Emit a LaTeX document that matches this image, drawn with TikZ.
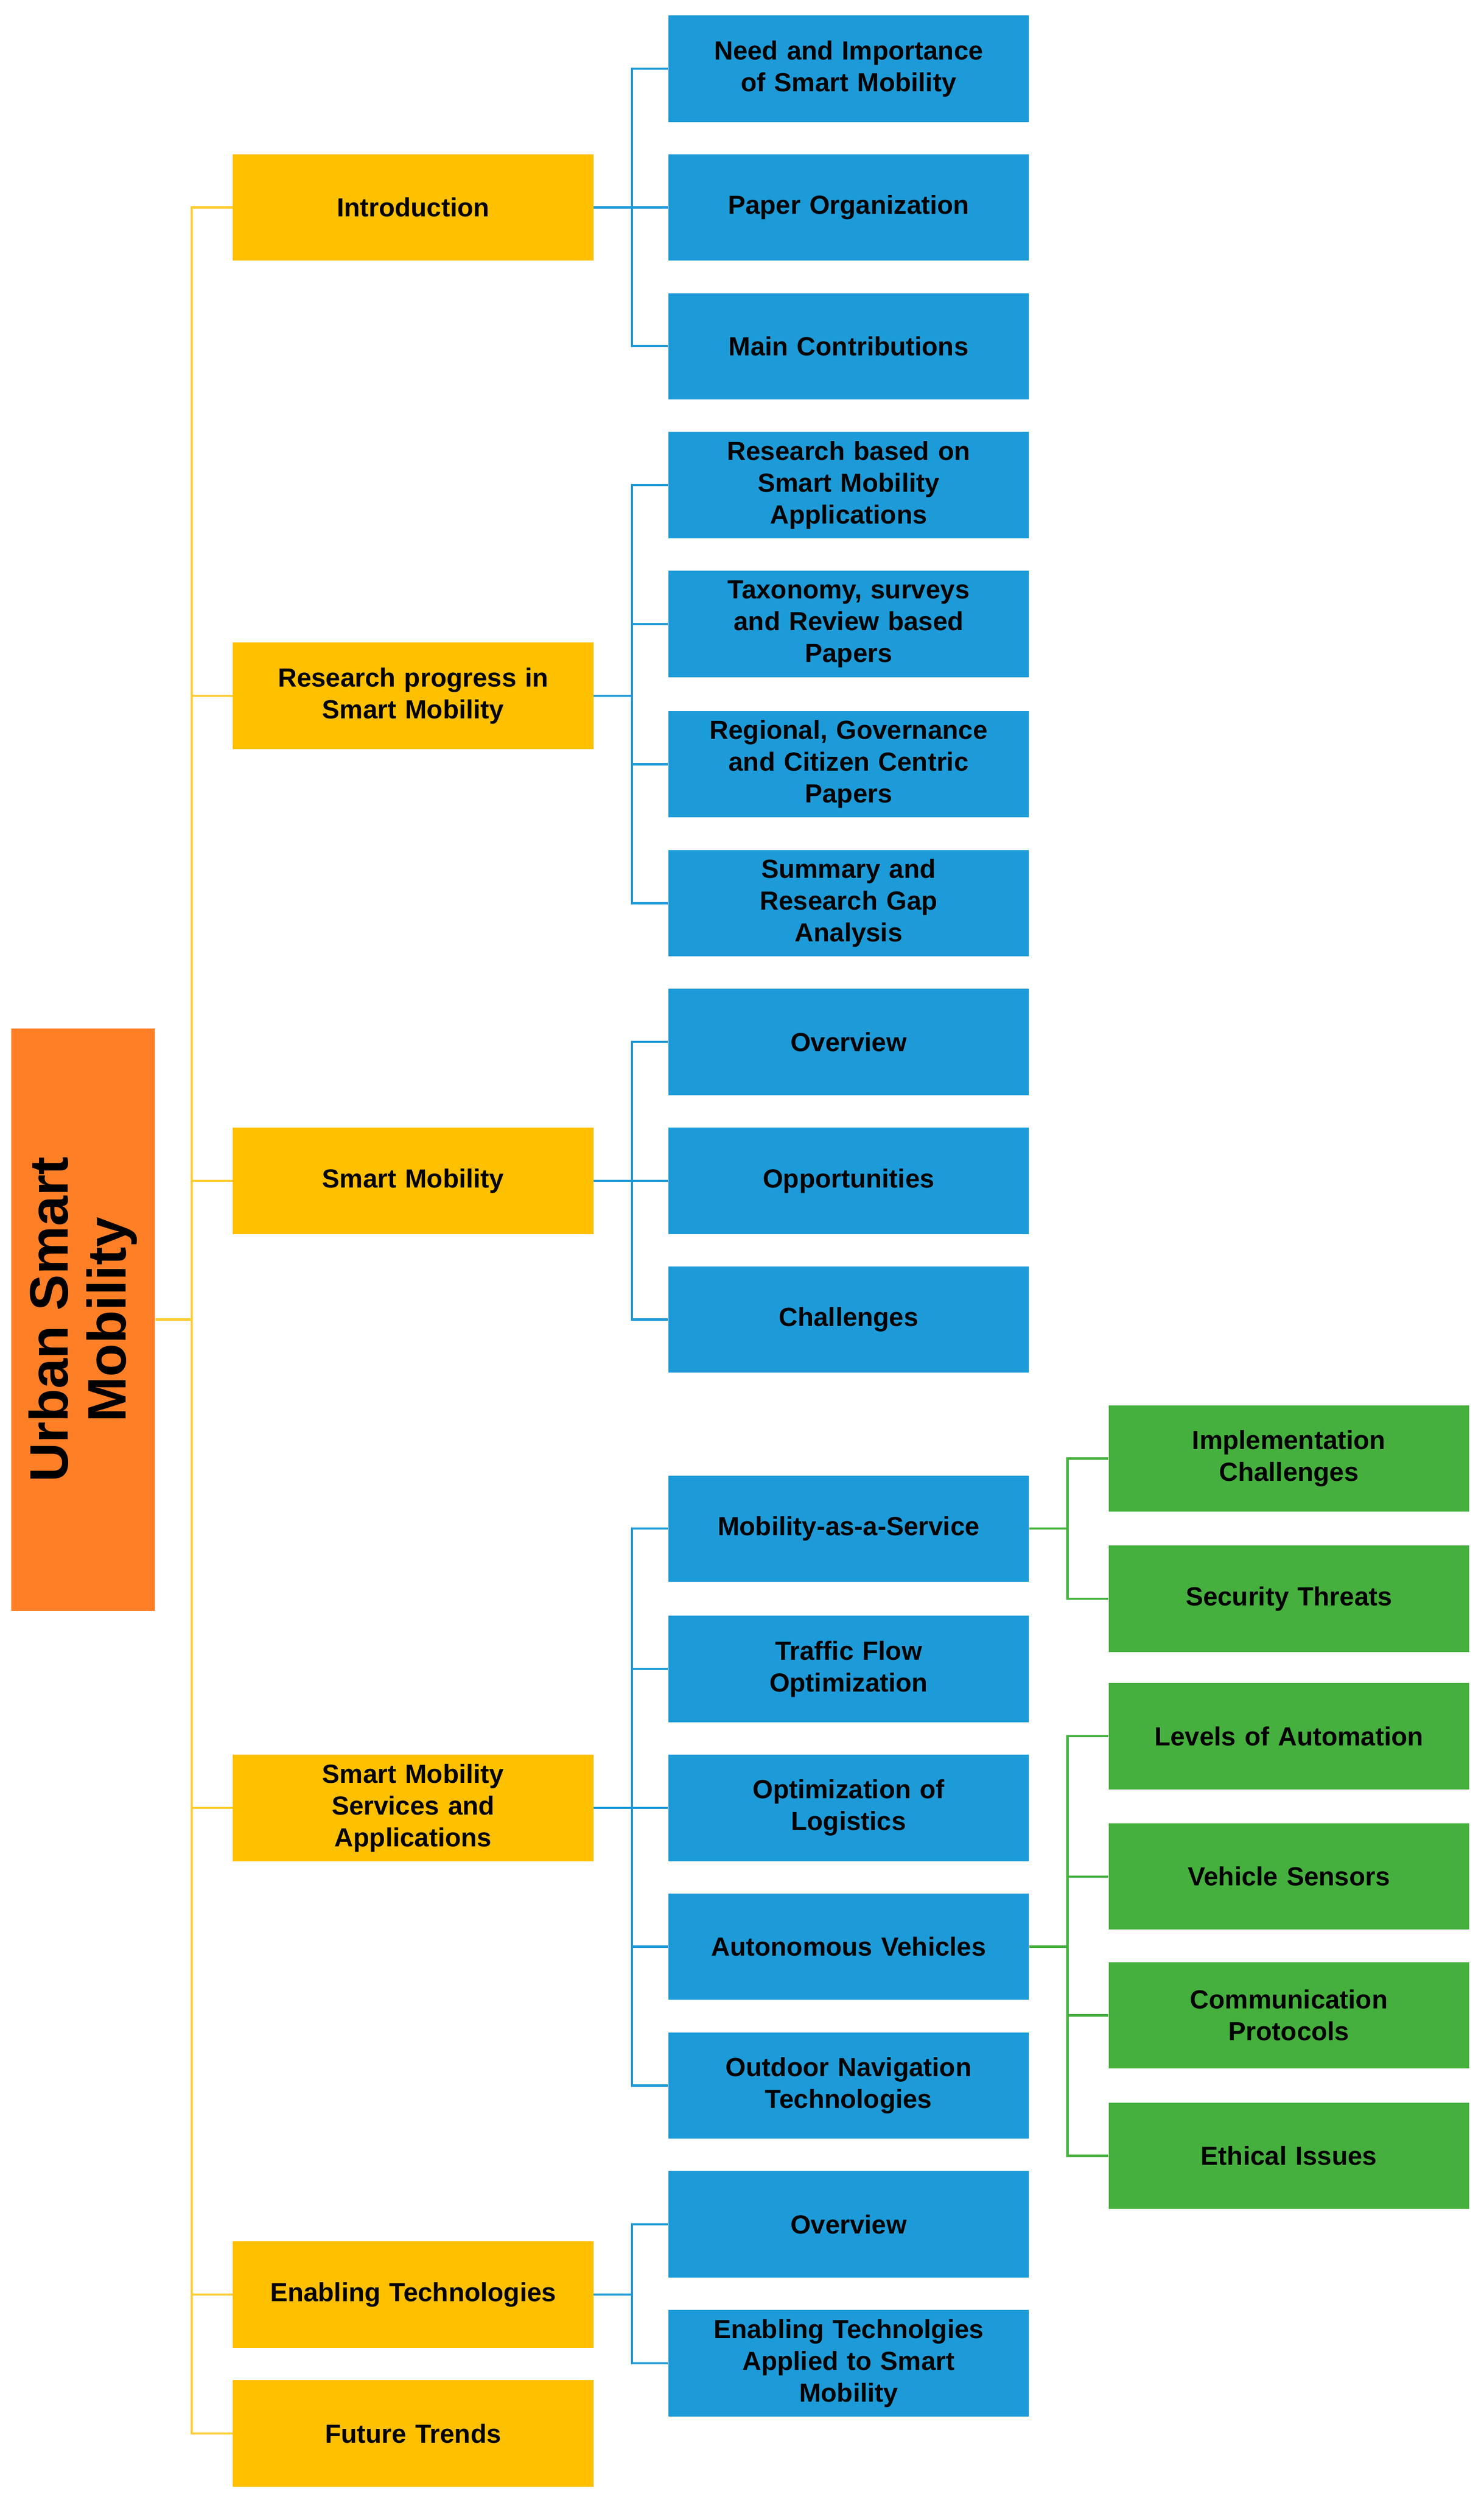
\documentclass[tikz,border=0pt]{standalone}
\usepackage{fontspec}
\setmainfont{Liberation Sans}
\begin{document}
\begin{tikzpicture}[x=0.03cm,y=-0.03cm,
 box/.style={minimum width=6.78cm,minimum height=2.0cm,inner sep=1pt,align=center,font=\fontsize{14}{17}\selectfont\bfseries,text width=6.7cm},
 yb/.style={box,fill=yel},
 bb/.style={box,fill=blu},
 gb/.style={box,fill=grn},
 yl/.style={draw=yel!80,line width=1.2pt},
 bl/.style={draw=blu,line width=1.2pt},
 gl/.style={draw=grn,line width=1.2pt}]
\definecolor{org}{HTML}{FF7F27}
\definecolor{yel}{HTML}{FFC000}
\definecolor{blu}{HTML}{1D9BD8}
\definecolor{grn}{HTML}{45B03D}
\useasboundingbox (0,0) rectangle (930,1563);
\node[fill=org,minimum width=2.7cm,minimum height=10.95cm] (root) at (52,827) {};
\node[rotate=90,align=center,font=\fontsize{29}{31}\selectfont\bfseries] (rt) at (root.center) {Urban Smart\\Mobility};
% yellow
\node[yb] (y1) at (259,130) {Introduction};
\node[yb] (y2) at (259,436) {Research progress in\\Smart Mobility};
\node[yb] (y3) at (259,740) {Smart Mobility};
\node[yb] (y4) at (259,1133) {Smart Mobility\\Services and\\Applications};
\node[yb] (y5) at (259,1438) {Enabling Technologies};
\node[yb] (y6) at (259,1525) {Future Trends};
% blue
\node[bb] (b1) at (532,43) {Need and Importance\\of Smart Mobility};
\node[bb] (b2) at (532,130) {Paper Organization};
\node[bb] (b3) at (532,217) {Main Contributions};
\node[bb] (b4) at (532,304) {Research based on\\Smart Mobility\\Applications};
\node[bb] (b5) at (532,391) {Taxonomy, surveys\\and Review based\\Papers};
\node[bb] (b6) at (532,479) {Regional, Governance\\and Citizen Centric\\Papers};
\node[bb] (b7) at (532,566) {Summary and\\Research Gap\\Analysis};
\node[bb] (b8) at (532,653) {Overview};
\node[bb] (b9) at (532,740) {Opportunities};
\node[bb] (b10) at (532,827) {Challenges};
\node[bb] (b11) at (532,958) {Mobility-as-a-Service};
\node[bb] (b12) at (532,1046) {Traffic Flow\\Optimization};
\node[bb] (b13) at (532,1133) {Optimization of\\Logistics};
\node[bb] (b14) at (532,1220) {Autonomous Vehicles};
\node[bb] (b15) at (532,1307) {Outdoor Navigation\\Technologies};
\node[bb] (b16) at (532,1394) {Overview};
\node[bb] (b17) at (532,1481) {Enabling Technolgies\\Applied to Smart\\Mobility};
% green
\node[gb] (g1) at (808,914) {Implementation\\Challenges};
\node[gb] (g2) at (808,1002) {Security Threats};
\node[gb] (g3) at (808,1088) {Levels of Automation};
\node[gb] (g4) at (808,1176) {Vehicle Sensors};
\node[gb] (g5) at (808,1263) {Communication\\Protocols};
\node[gb] (g6) at (808,1351) {Ethical Issues};
% connectors
\foreach \y in {y1,y2,y3,y4,y5,y6} \draw[yl] (root.east) -- ++(23,0) |- (\y.west);
\foreach \b in {b1,b2,b3} \draw[bl] (y1.east) -- ++(24,0) |- (\b.west);
\foreach \b in {b4,b5,b6,b7} \draw[bl] (y2.east) -- ++(24,0) |- (\b.west);
\foreach \b in {b8,b9,b10} \draw[bl] (y3.east) -- ++(24,0) |- (\b.west);
\foreach \b in {b11,b12,b13,b14,b15} \draw[bl] (y4.east) -- ++(24,0) |- (\b.west);
\foreach \b in {b16,b17} \draw[bl] (y5.east) -- ++(24,0) |- (\b.west);
\foreach \g in {g1,g2} \draw[gl] (b11.east) -- ++(24,0) |- (\g.west);
\foreach \g in {g3,g4,g5,g6} \draw[gl] (b14.east) -- ++(24,0) |- (\g.west);
\end{tikzpicture}
\end{document}
